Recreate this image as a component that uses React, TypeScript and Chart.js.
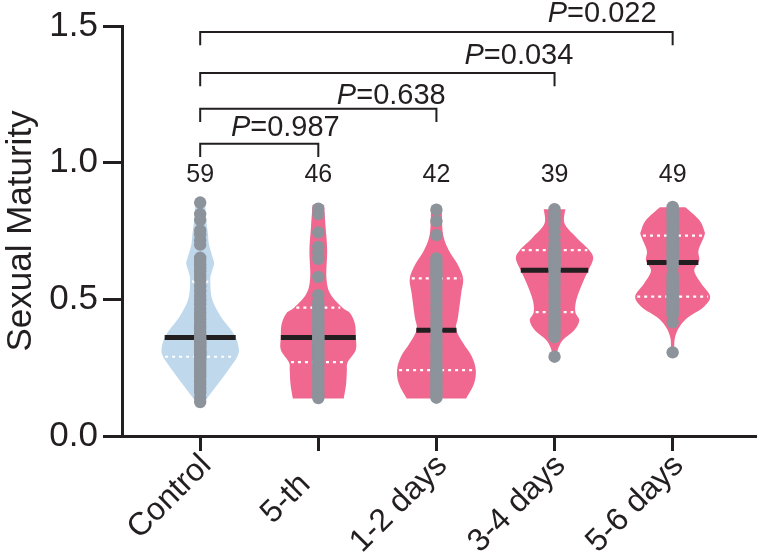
import React, { useEffect, useRef } from "react";
import { Chart, registerables } from "chart.js";

Chart.register(...registerables);

// ---------- data ----------
const categories = ["Control", "5-th   ", "1-2 days", "3-4 days", "5-6 days"];
const counts = [59, 46, 42, 39, 49];

const controlValues = [
  0.854, 0.812, 0.79, 0.752, 0.738, 0.716, 0.7,
  0.652, 0.64, 0.628, 0.615, 0.603, 0.59, 0.578, 0.568,
  0.548, 0.53, 0.512, 0.497, 0.482, 0.466, 0.452, 0.44, 0.428, 0.415, 0.404, 0.392, 0.382, 0.372, 0.364,
  0.356, 0.352, 0.347, 0.342, 0.337, 0.333, 0.328, 0.323, 0.318, 0.313, 0.309, 0.304, 0.3, 0.296, 0.292,
  0.284, 0.275, 0.266, 0.256, 0.246, 0.236, 0.225, 0.213, 0.2, 0.187, 0.172, 0.158, 0.14, 0.124,
];
const fifthValues = [
  0.832, 0.812, 0.745, 0.692, 0.67, 0.648, 0.582, 0.515,
  0.49, 0.478, 0.468,
  0.458, 0.448, 0.437, 0.426, 0.416, 0.405, 0.395, 0.386, 0.377, 0.369, 0.362,
  0.355, 0.348, 0.34, 0.332, 0.324, 0.316, 0.308, 0.3, 0.293, 0.286, 0.279, 0.272,
  0.262, 0.25, 0.238, 0.227, 0.215, 0.203, 0.192, 0.18, 0.168, 0.157, 0.148, 0.139,
];
const days12Values = [
  0.828, 0.786, 0.735,
  0.65, 0.638, 0.626, 0.614, 0.602, 0.592, 0.582,
  0.565, 0.548, 0.53, 0.512, 0.494, 0.476, 0.458, 0.44, 0.423, 0.408, 0.395,
  0.378, 0.362, 0.346, 0.33, 0.315, 0.3, 0.285, 0.27, 0.257, 0.246,
  0.236, 0.226, 0.216, 0.206, 0.196, 0.186, 0.176, 0.166, 0.157, 0.148, 0.14,
];
const days34Values = [
  0.83, 0.818, 0.806, 0.795, 0.782, 0.77, 0.748, 0.725, 0.705, 0.688,
  0.676, 0.668, 0.66, 0.652, 0.645, 0.638, 0.63, 0.622, 0.615, 0.609,
  0.598, 0.585, 0.57, 0.553, 0.536, 0.518, 0.5, 0.485, 0.467,
  0.452, 0.44, 0.428, 0.418, 0.408, 0.398, 0.387, 0.375, 0.362, 0.29,
];
const days56Values = [
  0.838, 0.83, 0.822, 0.814, 0.806, 0.798, 0.79, 0.78, 0.77, 0.76, 0.75, 0.74,
  0.728, 0.72, 0.712, 0.704, 0.696, 0.688, 0.68, 0.672, 0.664, 0.656, 0.648, 0.64,
  0.628, 0.62, 0.59, 0.582, 0.574, 0.566, 0.558, 0.55, 0.542, 0.534, 0.526, 0.518, 0.512,
  0.505, 0.498, 0.491, 0.484, 0.477, 0.47, 0.463, 0.456, 0.449, 0.443, 0.416, 0.306,
];
const groupValues = [controlValues, fifthValues, days12Values, days34Values, days56Values];

const medians = [0.36, 0.36, 0.387, 0.606, 0.635];
const upperQuartiles = [0.565, 0.47, 0.577, 0.68, 0.733];
const lowerQuartiles = [0.29, 0.27, 0.241, 0.453, 0.51];

// relative density (0..1) at each value, top to bottom
const controlDensity = [
  [0.858, 0.13], [0.8, 0.15], [0.74, 0.2], [0.7, 0.23], [0.65, 0.33], [0.63, 0.36], [0.6, 0.3],
  [0.57, 0.26], [0.5, 0.31], [0.435, 0.54], [0.39, 0.79], [0.36, 0.92], [0.32, 1.0], [0.29, 0.96],
  [0.24, 0.72], [0.19, 0.46], [0.14, 0.19], [0.12, 0.08],
];
const fifthDensity = [
  [0.845, 0.15], [0.763, 0.19], [0.68, 0.23], [0.58, 0.21], [0.52, 0.31], [0.47, 0.62], [0.45, 0.82],
  [0.41, 0.95], [0.36, 0.97], [0.315, 0.97], [0.27, 0.76], [0.24, 0.74], [0.19, 0.72], [0.137, 0.66],
];
const days12Density = [
  [0.836, 0.14], [0.74, 0.17], [0.68, 0.32], [0.63, 0.54], [0.577, 0.69], [0.52, 0.64], [0.435, 0.56],
  [0.39, 0.51], [0.34, 0.69], [0.29, 0.92], [0.24, 1.02], [0.19, 0.97], [0.137, 0.77],
];
const days34Density = [
  [0.83, 0.28], [0.777, 0.26], [0.727, 0.56], [0.68, 0.9], [0.655, 1.0], [0.63, 0.96], [0.605, 0.87],
  [0.558, 0.72], [0.496, 0.56], [0.453, 0.54], [0.423, 0.64], [0.387, 0.51], [0.35, 0.21],
  [0.314, 0.08], [0.29, 0.06],
];
const days56Density = [
  [0.837, 0.33], [0.79, 0.69], [0.75, 0.82], [0.733, 0.82], [0.68, 0.67], [0.642, 0.69], [0.605, 0.56],
  [0.558, 0.74], [0.51, 0.97], [0.47, 0.79], [0.435, 0.41], [0.4, 0.18], [0.36, 0.06], [0.314, 0.04],
  [0.3, 0.04],
];
const groupDensities = [controlDensity, fifthDensity, days12Density, days34Density, days56Density];

// significance brackets: compared groups, bar level, p-value, label position
const bracketPairs = [[0, 1], [0, 2], [0, 3], [0, 4]];
const bracketLevels = [1.069, 1.197, 1.328, 1.478];
const pValues = ["0.987", "0.638", "0.034", "0.022"];
const pLabelLeft = [0.26, 1.157, 2.238, 2.942];
const pLabelBaseline = [1.099, 1.215, 1.361, 1.515];

const yTicks = [0, 0.5, 1.0, 1.5];

// ---------- styles ----------
const FONT = "'Liberation Sans', Arial, Helvetica, sans-serif";
const INK = "#231F20";
const DOT = "#8C939B";
const violinColors = ["#BFD8EC", "#F0688F", "#F0688F", "#F0688F", "#F0688F"];
const MAX_HALF = 0.327; // category units
const BRACKET_DROP = 0.048;
const COUNT_LEVEL = 0.955;

function densityAt(profile: number[][], v: number) {
  for (let i = 0; i < profile.length - 1; i++) {
    const [v1, d1] = profile[i];
    const [v2, d2] = profile[i + 1];
    if (v <= v1 && v >= v2) {
      const t = (v1 - v) / (v1 - v2);
      return d1 + (d2 - d1) * t;
    }
  }
  return 0;
}

function curve(ctx: CanvasRenderingContext2D, pts: number[][], move: boolean) {
  if (move) ctx.moveTo(pts[0][0], pts[0][1]);
  else ctx.lineTo(pts[0][0], pts[0][1]);
  const t = 6;
  for (let i = 0; i < pts.length - 1; i++) {
    const p0 = pts[i - 1] || pts[i];
    const p1 = pts[i];
    const p2 = pts[i + 1];
    const p3 = pts[i + 2] || p2;
    ctx.bezierCurveTo(
      p1[0] + (p2[0] - p0[0]) / t, p1[1] + (p2[1] - p0[1]) / t,
      p2[0] - (p3[0] - p1[0]) / t, p2[1] - (p3[1] - p1[1]) / t,
      p2[0], p2[1]
    );
  }
}

const violinPlugin = {
  id: "violins",
  beforeDatasetsDraw(chart: any) {
    const { ctx, scales } = chart;
    const xs = scales.x;
    const ys = scales.y;
    const W = xs.getPixelForValue(MAX_HALF) - xs.getPixelForValue(0);
    groupDensities.forEach((prof, i) => {
      const cx = xs.getPixelForValue(i);
      const right = prof.map(([v, d]) => [cx + d * W, ys.getPixelForValue(v)]);
      const left = prof.map(([v, d]) => [cx - d * W, ys.getPixelForValue(v)]).reverse();
      ctx.save();
      ctx.beginPath();
      curve(ctx, right, true);
      curve(ctx, left, false);
      ctx.closePath();
      ctx.fillStyle = violinColors[i];
      ctx.fill();

      // quartiles
      ctx.strokeStyle = "#FFFFFF";
      ctx.lineWidth = 2.2;
      ctx.setLineDash([3, 4]);
      [upperQuartiles[i], lowerQuartiles[i]].forEach((q) => {
        const hw = densityAt(prof, q) * W - 2;
        const y = ys.getPixelForValue(q);
        ctx.beginPath();
        ctx.moveTo(cx - hw, y);
        ctx.lineTo(cx + hw, y);
        ctx.stroke();
      });
      ctx.setLineDash([]);
      // median
      const mhw = densityAt(prof, medians[i]) * W;
      const my = ys.getPixelForValue(medians[i]);
      ctx.strokeStyle = INK;
      ctx.lineWidth = 5;
      ctx.beginPath();
      ctx.moveTo(cx - mhw, my);
      ctx.lineTo(cx + mhw, my);
      ctx.stroke();
      ctx.restore();
    });
  },
  afterDatasetsDraw(chart: any) {
    const { ctx, scales } = chart;
    const xs = scales.x;
    const ys = scales.y;
    ctx.save();
    // counts
    ctx.fillStyle = INK;
    ctx.font = `25px ${FONT}`;
    ctx.textAlign = "center";
    ctx.textBaseline = "middle";
    counts.forEach((n, i) => {
      ctx.fillText(String(n), xs.getPixelForValue(i), ys.getPixelForValue(COUNT_LEVEL));
    });
    // brackets
    ctx.strokeStyle = INK;
    ctx.lineWidth = 2;
    bracketPairs.forEach(([a, b], k) => {
      const x1 = xs.getPixelForValue(a);
      const x2 = xs.getPixelForValue(b);
      const y = ys.getPixelForValue(bracketLevels[k]);
      const yd = ys.getPixelForValue(bracketLevels[k] - BRACKET_DROP);
      ctx.beginPath();
      ctx.moveTo(x1, yd);
      ctx.lineTo(x1, y);
      ctx.lineTo(x2, y);
      ctx.lineTo(x2, yd);
      ctx.stroke();
      // label
      const lx = xs.getPixelForValue(pLabelLeft[k]);
      const ly = ys.getPixelForValue(pLabelBaseline[k]);
      ctx.textAlign = "left";
      ctx.textBaseline = "alphabetic";
      ctx.font = `italic 29px ${FONT}`;
      ctx.fillText("P", lx, ly);
      const pw = ctx.measureText("P").width;
      ctx.font = `29px ${FONT}`;
      ctx.fillText("=" + pValues[k], lx + pw, ly);
    });
    ctx.restore();
  },
};

export default function App() {
  const ref = useRef<HTMLCanvasElement | null>(null);
  useEffect(() => {
    if (!ref.current) return;
    const points: { x: number; y: number }[] = [];
    groupValues.forEach((vals, i) => vals.forEach((v) => points.push({ x: i, y: v })));
    const chart = new Chart(ref.current, {
      type: "scatter",
      data: {
        datasets: [
          {
            data: points,
            pointRadius: 6.2,
            pointHoverRadius: 6.2,
            pointBackgroundColor: DOT,
            pointBorderWidth: 0,
            showLine: false,
            clip: false as any,
          },
        ],
      },
      options: {
        responsive: false,
        animation: false,
        events: [],
        layout: { padding: { top: 25, right: 0, left: 0, bottom: 0 } },
        plugins: { legend: { display: false }, tooltip: { enabled: false } },
        scales: {
          x: {
            type: "linear",
            min: -0.662,
            max: 4.704,
            afterBuildTicks: (s: any) => {
              s.ticks = categories.map((_, i) => ({ value: i }));
            },
            afterFit: (s: any) => {
              s.height = 116;
            },
            ticks: {
              autoSkip: false,
              maxRotation: 45,
              minRotation: 45,
              padding: -4,
              labelOffset: 6,
              color: INK,
              font: { family: FONT, size: 32 },
              callback: (v: any) => categories[v as number] ?? "",
            },
            grid: {
              display: true,
              drawOnChartArea: false,
              drawTicks: true,
              tickLength: 15,
              color: INK,
              lineWidth: 3,
            },
            border: { display: true, color: INK, width: 3 },
          },
          y: {
            type: "linear",
            min: 0,
            max: 1.5,
            afterBuildTicks: (s: any) => {
              s.ticks = yTicks.map((v) => ({ value: v }));
            },
            afterFit: (s: any) => {
              s.width = 122;
            },
            ticks: {
              padding: 5,
              color: INK,
              font: { family: FONT, size: 35 },
              callback: (v: any) => Number(v).toFixed(1),
            },
            grid: {
              display: true,
              drawOnChartArea: false,
              drawTicks: true,
              tickLength: 19,
              color: INK,
              lineWidth: 3,
            },
            border: { display: true, color: INK, width: 3 },
            title: {
              display: true,
              text: "Sexual Maturity",
              color: INK,
              font: { family: FONT, size: 35 },
              padding: { top: 0, bottom: 0 },
            },
          },
        },
      },
      plugins: [violinPlugin],
    });
    return () => chart.destroy();
  }, []);
  return (
    <div style={{ position: "fixed", left: 0, top: 0, width: 762, height: 552, background: "#fff" }}>
      <canvas ref={ref} width={762} height={552} style={{ display: "block" }} />
    </div>
  );
}
